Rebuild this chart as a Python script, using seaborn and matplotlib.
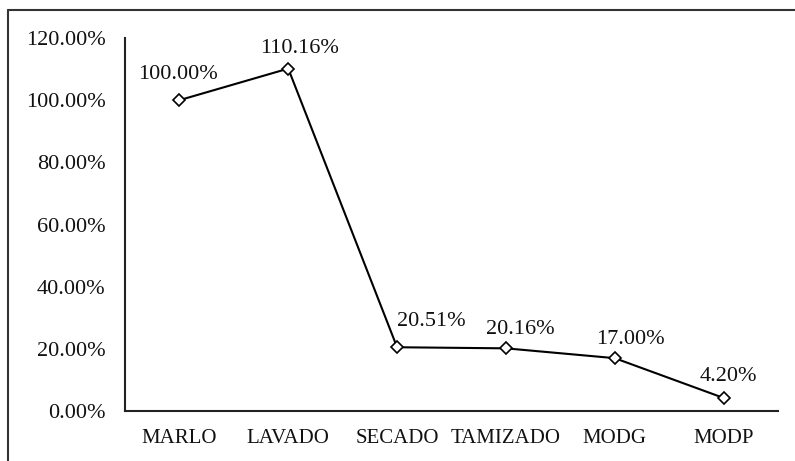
import matplotlib
matplotlib.use("Agg")
import matplotlib.pyplot as plt
from matplotlib.lines import Line2D
from matplotlib.ticker import FuncFormatter
import seaborn as sns
import pandas as pd

categories = ["MARLO", "LAVADO", "SECADO", "TAMIZADO", "MODG", "MODP"]
values = [1.0000, 1.1016, 0.2051, 0.2016, 0.1700, 0.0420]
labels = ["100.00%", "110.16%", "20.51%", "20.16%", "17.00%", "4.20%"]
y_ticks = [0.0, 0.2, 0.4, 0.6, 0.8, 1.0, 1.2]

# label offsets in pixels (dx, dy of text baseline from marker)
label_offsets = [(-1, 21), (11, 16), (34, 21), (14, 14), (16, 14), (5, 17)]

sns.set_theme(style="white")
plt.rcParams["font.family"] = ["Liberation Serif", "DejaVu Serif"]

df = pd.DataFrame({"cat": categories, "val": values})

fig = plt.figure(figsize=(7.95, 4.61), dpi=100)
fig.patch.set_facecolor("white")
ax = fig.add_axes([125 / 795, 1 - 411 / 461, (778 - 125) / 795, (411 - 38) / 461])

sns.lineplot(data=df, x="cat", y="val", sort=False, ax=ax, color="black",
             linewidth=1.5, marker="D", markersize=6, markerfacecolor="white",
             markeredgecolor="black", markeredgewidth=1.2)

for i, (v, lab) in enumerate(zip(values, labels)):
    dx, dy = label_offsets[i]
    ax.annotate(lab, xy=(i, v), xytext=(dx, dy), textcoords="offset pixels",
                ha="center", va="baseline", fontsize=16, color="#111111")

ax.set_xlim(-0.5, len(categories) - 0.5)
ax.set_ylim(0, 1.2)
ax.set_yticks(y_ticks)
ax.yaxis.set_major_formatter(FuncFormatter(lambda v, p: f"{v * 100:.2f}%"))
ax.set_xlabel("")
ax.set_ylabel("")
ax.tick_params(axis="y", length=0, pad=14, labelsize=16, labelcolor="#111111")
ax.tick_params(axis="x", length=0, pad=13, labelsize=15, labelcolor="#111111")

for s in ["top", "right"]:
    ax.spines[s].set_visible(False)
for s in ["left", "bottom"]:
    ax.spines[s].set_color("#222222")
    ax.spines[s].set_linewidth(1.5)
ax.set_facecolor("white")

# outer border (left and top visible)
W, H = 795, 461
fig.add_artist(Line2D([8 / W, 8 / W], [0, 1 - 10 / H], transform=fig.transFigure,
                      color="#333333", linewidth=1.5))
fig.add_artist(Line2D([8 / W, 1], [1 - 10 / H, 1 - 10 / H], transform=fig.transFigure,
                      color="#333333", linewidth=1.5))

fig.savefig("out.png", dpi=100)
